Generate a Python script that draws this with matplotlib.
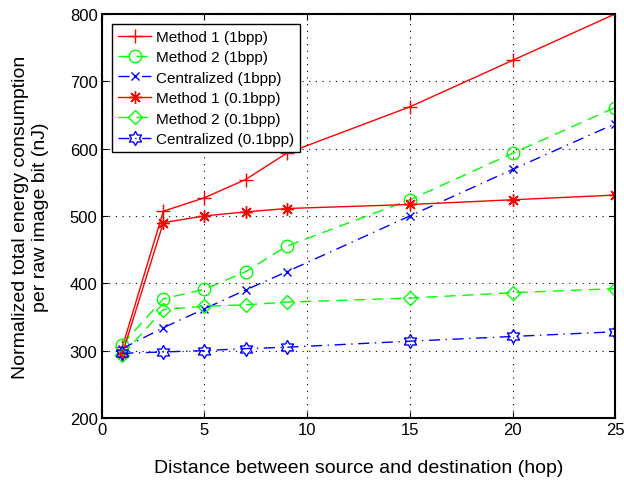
import matplotlib.pyplot as plt
from matplotlib.path import Path

plt.rcParams['font.family'] = ['Liberation Sans', 'DejaVu Sans']

hops = [1, 3, 5, 7, 9, 15, 20, 25]

m1_1bpp = [305, 507, 527, 554, 593, 662, 731, 800]
m2_1bpp = [309, 377, 391, 417, 455, 524, 593, 661]
cen_1bpp = [303, 334, 362, 390, 417, 500, 569, 637]
m1_01bpp = [295, 490, 500, 506, 511, 517, 524, 531]
m2_01bpp = [293, 361, 366, 368, 372, 378, 386, 392]
cen_01bpp = [296, 298, 300, 303, 305, 314, 321, 328]

labels = ['Method 1 (1bpp)', 'Method 2 (1bpp)', 'Centralized (1bpp)',
          'Method 1 (0.1bpp)', 'Method 2 (0.1bpp)', 'Centralized (0.1bpp)']

# hexagram outline like matlab's 'h' marker
hexagram = Path.unit_regular_star(6, 0.577)
# asterisk like matlab's '*'
asterisk = (8, 2, 0)

fig = plt.figure(figsize=(6.24, 4.81), dpi=100)
ax = fig.add_axes([0.163, 0.129, 0.823, 0.840])

dash = (0, (8, 5))
dashdot = (0, (8, 4, 1, 4))

ax.plot(hops, m1_1bpp, color='r', ls='-', marker='+', ms=10, mew=1, lw=1, label=labels[0])
ax.plot(hops, m2_1bpp, color='#00ff00', ls=dash, marker='o', ms=9, mfc='none', mew=1, lw=1, label=labels[1])
ax.plot(hops, cen_1bpp, color='b', ls=dashdot, marker='x', ms=6, mew=1, lw=1, label=labels[2])
ax.plot(hops, m1_01bpp, color='r', ls='-', marker=asterisk, ms=9, mew=1, lw=1, label=labels[3])
ax.plot(hops, m2_01bpp, color='#00ff00', ls=dash, marker='D', ms=7, mfc='none', mew=1, lw=1, label=labels[4])
ax.plot(hops, cen_01bpp, color='b', ls=dashdot, marker=hexagram, ms=10, mfc='none', mew=1, lw=1, label=labels[5])

ax.set_xlim(0, 25)
ax.set_ylim(200, 800)
ax.set_xticks([0, 5, 10, 15, 20, 25])
ax.set_yticks([200, 300, 400, 500, 600, 700, 800])
ax.tick_params(direction='in', top=True, right=True, labelsize=12, length=4, pad=3)
ax.grid(True, color='k', ls=(0, (1, 5)), lw=0.8)
for s in ax.spines.values():
    s.set_linewidth(1.5)

ax.set_xlabel('Distance between source and destination (hop)', fontsize=14, labelpad=16)
ax.set_ylabel('Normalized total energy consumption\nper raw image bit (nJ)', fontsize=14, labelpad=15)

leg = ax.legend(loc='upper left', fontsize=11, fancybox=False, edgecolor='k',
                framealpha=1, handlelength=2.2, borderpad=0.4, labelspacing=0.42,
                handletextpad=0.3, borderaxespad=0.65)
leg.get_frame().set_linewidth(1)

fig.savefig('out.png', dpi=100)
